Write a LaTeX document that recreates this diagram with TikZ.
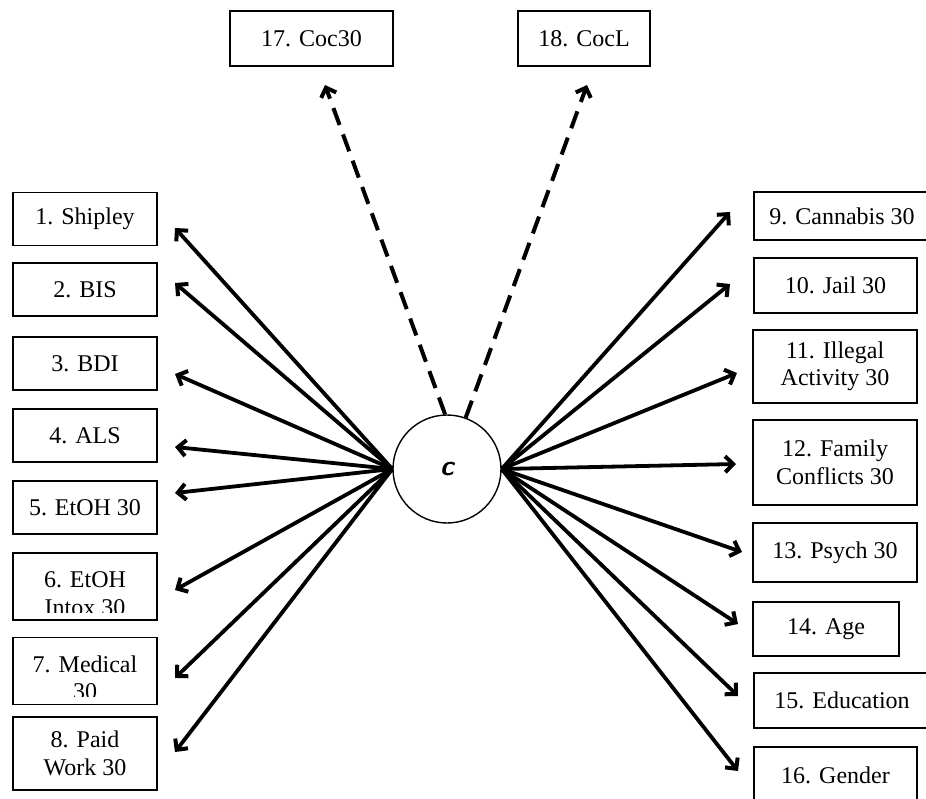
\documentclass[tikz,border=0pt]{standalone}
\usepackage{fontspec}
\setmainfont{Liberation Serif}
\usetikzlibrary{arrows.meta}
\tikzset{bx/.style 2 args={draw, rectangle, line width=1.4pt, inner sep=0pt, align=center,
  minimum width=#1pt, minimum height=#2pt, font=\fontsize{24}{27.5}\selectfont}}
\tikzset{cut/.style={path picture={
  \clip ([yshift=8pt]path picture bounding box.south west) rectangle (path picture bounding box.north east);
  \node[align=center, inner sep=0pt, font=\fontsize{24}{27.5}\selectfont, yshift=-7pt]
    at (path picture bounding box.center) {#1};}}}
\tikzset{ar/.style={-{Straight Barb[length=8pt,width=16pt,line width=4pt]}, line width=3.8pt}}

\begin{document}
\begin{tikzpicture}[x=1pt, y=-1pt]
\useasboundingbox (0,0) rectangle (926,798);
\tikzstyle{dsh}=[ar, dash pattern=on 18pt off 10pt, line width=4pt]
% latent factor
\node[circle, draw, line width=1.4pt, minimum size=108pt, inner sep=0pt,
      font=\fontsize{28}{28}\sffamily\bfseries\slshape] (c) at (447,469) {c};
% top
\node[bx={163}{55}] (t17) at (311.5,38.5) {17. Coc30};
\node[bx={132}{55}] (t18) at (584,38.5) {18. CocL};
% left
\node[bx={144}{53}] (l1) at (85,219) {1. Shipley};
\node[bx={144}{53}] (l2) at (85,289.5) {2. BIS};
\node[bx={144}{53}] (l3) at (85,363.5) {3. BDI};
\node[bx={144}{53}] (l4) at (85,435.5) {4. ALS};
\node[bx={144}{53}] (l5) at (85,507.5) {5. EtOH 30};
\node[bx={144}{67}, cut={6. EtOH\\Intox 30}] (l6) at (85,586.5) {};
\node[bx={144}{67}, cut={7. Medical\\30}] (l7) at (85,671) {};
\node[bx={144}{73}] (l8) at (85,753.5) {8. Paid\\Work 30};
% right
\node[bx={176}{48}] (r9) at (842,216) {9. Cannabis 30};
\node[bx={163}{55}] (r10) at (835.5,285.5) {10. Jail 30};
\node[bx={164}{73}] (r11) at (835,366.5) {11. Illegal\\Activity 30};
\node[bx={164}{85}] (r12) at (835,462.5) {12. Family\\Conflicts 30};
\node[bx={164}{59}] (r13) at (835,552.5) {13. Psych 30};
\node[bx={146}{54}] (r14) at (826,629) {14. Age};
\node[bx={176}{55}] (r15) at (842,700.5) {15. Education};
\node[bx={163}{56}] (r16) at (835.5,775) {16. Gender};
% loadings
\foreach \y [count=\i] in {228,283,374,447,493,590,678,752}{
  \coordinate (a\i) at (175,\y);
  \draw[ar] (c.west) -- (a\i);
}
\foreach \x/\y [count=\i] in {730/212,730/284,737/373,736/464,742/552,738/624,738/696,738/771}{
  \coordinate (b\i) at (\x,\y);
  \draw[ar] (c.east) -- (b\i);
}
\coordinate (d17) at (325,85);
\coordinate (d18) at (587,85);
\draw[dsh] (c.92) -- (d17);
\draw[dsh] (c.70) -- (d18);
\end{tikzpicture}
\end{document}
